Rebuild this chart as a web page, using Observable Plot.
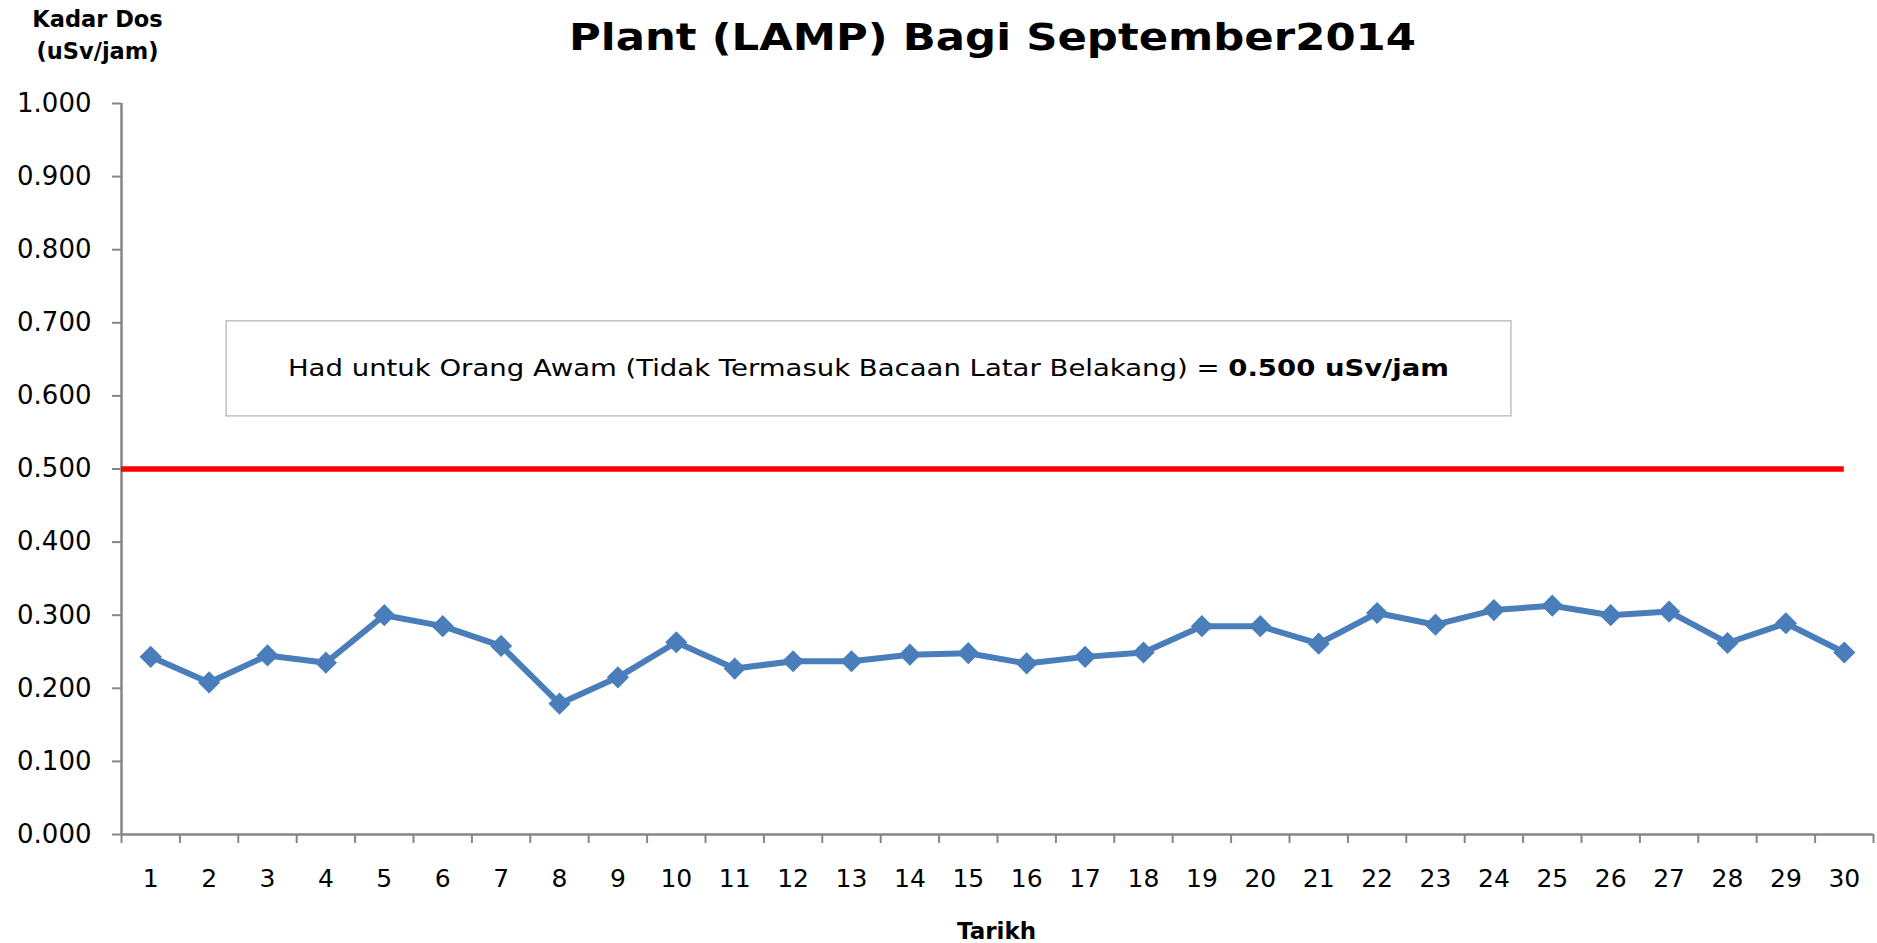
<!DOCTYPE html>
<html>
<head>
<meta charset="utf-8">
<script src="https://cdn.jsdelivr.net/npm/d3@7"></script>
<script src="https://cdn.jsdelivr.net/npm/@observablehq/plot@0.6"></script>
<style>
  html, body { margin: 0; padding: 0; background: #ffffff; }
  #chart svg { display: block; }
</style>
</head>
<body>
<div id="chart"></div>
<script>
// ---- Data ----
const tarikh = [1, 2, 3, 4, 5, 6, 7, 8, 9, 10, 11, 12, 13, 14, 15,
                16, 17, 18, 19, 20, 21, 22, 23, 24, 25, 26, 27, 28, 29, 30];
const kadarDos = [0.243, 0.208, 0.245, 0.235, 0.300, 0.285, 0.258, 0.179, 0.215, 0.263,
                  0.227, 0.237, 0.237, 0.246, 0.248, 0.234, 0.243, 0.249, 0.285, 0.285,
                  0.261, 0.303, 0.287, 0.307, 0.313, 0.300, 0.305, 0.262, 0.289, 0.249];
const hadOrangAwam = 0.5;
const yTicks = [0, 0.1, 0.2, 0.3, 0.4, 0.5, 0.6, 0.7, 0.8, 0.9, 1.0];

const titleText = "Plant (LAMP) Bagi September2014";
const yLabelText = "Kadar Dos\n(uSv/jam)";
const xLabelText = "Tarikh";
const notePlain = "Had untuk Orang Awam (Tidak Termasuk Bacaan Latar Belakang) = ";
const noteBold = "0.500 uSv/jam";

// ---- Derived tables ----
const data = tarikh.map((t, i) => ({tarikh: t, dos: kadarDos[i]}));
const edges = [tarikh[0] - 0.5, ...tarikh.map(t => t + 0.5)];

const axisGrey = "#868686";
const blue = "#4a7ebb";

const chart = Plot.plot({
  width: 1877,
  height: 943,
  marginLeft: 121,
  marginRight: 4,
  marginTop: 103,
  marginBottom: 109,
  style: {fontFamily: "'DejaVu Sans', sans-serif", background: "#ffffff", color: "#000000"},
  x: {domain: [edges[0], edges[edges.length - 1]]},
  y: {domain: [0, 1]},
  marks: [
    // y axis ticks + labels
    Plot.axisY({ticks: yTicks, tickSize: 9, tickPadding: 21, tickFormat: d3.format(".3f"),
                fontSize: 26, stroke: axisGrey, strokeWidth: 2, fill: "#000", label: null}),
    // x axis tick marks between categories
    Plot.axisX({ticks: edges, tickSize: 9, tickFormat: () => "", stroke: axisGrey,
                strokeWidth: 2, label: null}),
    // x axis category labels
    Plot.axisX({ticks: tarikh, tickSize: 0, tickPadding: 35, fontSize: 25, fill: "#000",
                label: null}),
    // axis lines
    Plot.ruleX([edges[0]], {stroke: axisGrey, strokeWidth: 2.5}),
    Plot.ruleY([0], {stroke: axisGrey, strokeWidth: 2.5}),
    // limit line
    Plot.ruleY([hadOrangAwam], {x1: edges[0], x2: tarikh[tarikh.length - 1],
                                stroke: "#ff0000", strokeWidth: 5.5}),
    // annotation box
    Plot.rect([notePlain], {x1: 2.30, x2: 24.30, y1: 0.572, y2: 0.702,
                            fill: "#ffffff", stroke: "#bfbfbf", strokeWidth: 1.5}),
    Plot.text([notePlain + noteBold], {x: 13.29, y: 0.637, text: d => d, lineAnchor: "middle",
                            fontSize: 23, fill: "#000"}),
    // series
    Plot.line(data, {x: "tarikh", y: "dos", stroke: blue, strokeWidth: 6, strokeLinejoin: "round"}),
    Plot.dot(data, {x: "tarikh", y: "dos", symbol: "diamond2", r: 10, fill: blue, stroke: "none"}),
    // titles
    Plot.text([titleText], {frameAnchor: "top", dx: -5, dy: -54, lineAnchor: "bottom",
                            text: d => d, fontSize: 38, fontWeight: "bold", fill: "#000"}),
    Plot.text([yLabelText], {frameAnchor: "top-left", dx: -24, dy: -45, lineAnchor: "bottom",
                             textAnchor: "middle", lineHeight: 1.42,
                             text: d => d, fontSize: 22.5, fontWeight: "bold", fill: "#000"}),
    Plot.text([xLabelText], {frameAnchor: "bottom", dx: -1, dy: 104, lineAnchor: "bottom",
                             text: d => d, fontSize: 23, fontWeight: "bold", fill: "#000"})
  ]
});

document.getElementById("chart").appendChild(chart);

// Mixed weight in the note, and Calibri-like stretched widths
const svg = d3.select(chart);
svg.selectAll("text").each(function() {
  const t = d3.select(this);
  const s = this.textContent;
  if (s === notePlain + noteBold) {
    t.text(null);
    t.append("tspan").text(notePlain);
    t.append("tspan").attr("font-weight", "bold").text(noteBold);
    t.attr("textLength", 1161).attr("lengthAdjust", "spacingAndGlyphs");
  } else if (s === titleText) {
    t.attr("textLength", 847).attr("lengthAdjust", "spacingAndGlyphs");
  }
});
</script>
</body>
</html>
